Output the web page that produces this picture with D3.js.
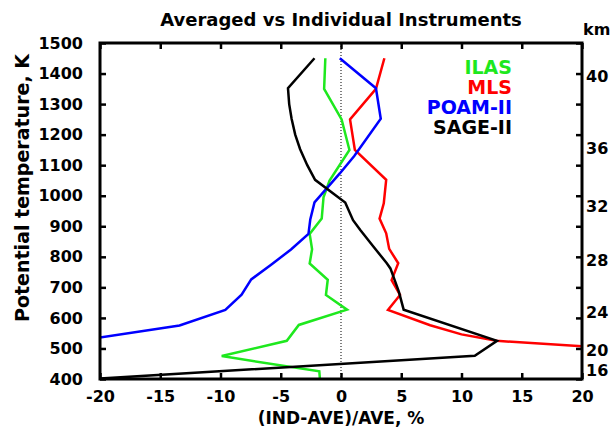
<!DOCTYPE html>
<html>
<head>
<meta charset="utf-8">
<script src="https://cdn.jsdelivr.net/npm/d3@7"></script>
<style>
  body { margin: 0; background: #fff; }
  text { font-family: "DejaVu Sans", sans-serif; font-weight: bold; fill: #000; }
</style>
</head>
<body>
<div id="chart"></div>
<script>
// potential temperature levels (K) and percent differences for each instrument
var ilasTheta = [1450, 1350, 1250, 1150, 1050, 995, 925, 875, 825, 778, 725, 675, 627, 577, 525, 475, 425, 400];
var ilasDiff  = [-1.3, -1.4, 0.05, 0.7, -0.95, -1.45, -1.6, -2.6, -2.4, -2.6, -1.1, -1.25, 0.5, -3.5, -4.5, -9.9, -1.8, -1.75];

var mlsTheta = [1450, 1350, 1250, 1150, 1052, 975, 925, 877, 826, 779, 724, 675, 626, 576, 546, 525, 500];
var mlsDiff  = [3.6, 2.9, 0.75, 1.15, 3.75, 3.55, 3.2, 3.75, 4.0, 4.75, 4.2, 4.9, 3.9, 7.4, 10.0, 12.9, 23];

var poamTheta = [1450, 1352, 1252, 1130, 1073, 978, 922, 875, 824, 774, 726, 676, 626, 575, 525];
var poamDiff  = [-0.1, 2.9, 3.3, 1.1, -0.1, -2.2, -2.55, -2.7, -4.15, -5.8, -7.45, -8.25, -9.6, -13.4, -21.9];

var sageTheta = [1450, 1352, 1300, 1252, 1200, 1153, 1100, 1052, 978, 920, 888, 833, 779, 762, 686, 627, 525, 476, 400];
var sageDiff  = [-2.2, -4.4, -4.3, -4.1, -3.8, -3.4, -2.8, -2.15, 0.35, 1.0, 1.6, 2.7, 3.8, 4.1, 4.8, 5.2, 12.95, 11.1, -20.6];

var seriesNames  = ["ILAS", "MLS", "POAM-II", "SAGE-II"];
var seriesColors = ["#1ee81e", "#ff0000", "#0000ff", "#000000"];
var seriesTheta  = [ilasTheta, mlsTheta, poamTheta, sageTheta];
var seriesDiff   = [ilasDiff, mlsDiff, poamDiff, sageDiff];

var xTicks = [-20, -15, -10, -5, 0, 5, 10, 15, 20];
var yTicks = [400, 500, 600, 700, 800, 900, 1000, 1100, 1200, 1300, 1400, 1500];
var kmLabels = ["40", "36", "32", "28", "24", "20", "16"];
var kmTheta  = [1390, 1155, 964, 790, 620, 495, 430];

var width = 611, height = 428;
var plotL = 100, plotR = 582, plotT = 43, plotB = 379;

var svg = d3.select("#chart").append("svg")
            .attr("width", width)
            .attr("height", height);

var x = d3.scaleLinear().domain([-20, 20]).range([plotL, plotR]);
var y = d3.scaleLinear().domain([400, 1500]).range([plotB, plotT]);

svg.append("clipPath").attr("id", "plotclip")
   .append("rect")
   .attr("x", plotL).attr("y", plotT)
   .attr("width", plotR - plotL).attr("height", plotB - plotT);

// zero line
svg.append("line")
   .attr("x1", x(0)).attr("x2", x(0))
   .attr("y1", plotT).attr("y2", plotB)
   .attr("stroke", "#000")
   .attr("stroke-width", 1)
   .attr("stroke-dasharray", "1,2");

var line = d3.line()
             .x(function (d) { return x(d[0]); })
             .y(function (d) { return y(d[1]); });

var lines = svg.append("g").attr("clip-path", "url(#plotclip)");
for (var i = 0; i < seriesNames.length; i++) {
  var pts = d3.zip(seriesDiff[i], seriesTheta[i]);
  lines.append("path")
       .attr("d", line(pts))
       .attr("fill", "none")
       .attr("stroke", seriesColors[i])
       .attr("stroke-width", 2.5)
       .attr("stroke-linejoin", "miter");
}

var plain = function (d) { return String(d); };

// axes with inward ticks
svg.append("g")
   .attr("transform", "translate(" + plotL + ",0)")
   .call(d3.axisLeft(y).tickValues(yTicks).tickSizeInner(-6).tickSizeOuter(0).tickPadding(17).tickFormat(plain));

svg.append("g")
   .attr("transform", "translate(" + plotR + ",0)")
   .call(d3.axisRight(y).tickValues(yTicks).tickSizeInner(-6).tickSizeOuter(0).tickFormat(""));

svg.append("g")
   .attr("transform", "translate(0," + plotB + ")")
   .call(d3.axisBottom(x).tickValues(xTicks).tickSizeInner(-6).tickSizeOuter(0).tickPadding(12).tickFormat(plain));

svg.append("g")
   .attr("transform", "translate(0," + plotT + ")")
   .call(d3.axisTop(x).tickValues(xTicks).tickSizeInner(-6).tickSizeOuter(0).tickFormat(""));

svg.selectAll(".domain").remove();
svg.selectAll(".tick line").attr("stroke", "#000").attr("stroke-width", 2.5);
svg.selectAll(".tick text")
   .attr("fill", "#000")
   .style("font-family", "'DejaVu Sans', sans-serif")
   .style("font-weight", "bold")
   .style("font-size", "16px");

// frame
svg.append("rect")
   .attr("x", plotL).attr("y", plotT)
   .attr("width", plotR - plotL).attr("height", plotB - plotT)
   .attr("fill", "none")
   .attr("stroke", "#000")
   .attr("stroke-width", 3);

// km labels on the right
svg.selectAll(".km")
   .data(kmLabels)
   .enter()
   .append("text")
   .attr("class", "km")
   .attr("x", plotR + 4)
   .attr("y", function (d, i) { return y(kmTheta[i]); })
   .attr("dy", "0.36em")
   .style("font-size", "16px")
   .text(function (d) { return d; });

svg.append("text")
   .attr("x", 583).attr("y", 35)
   .style("font-size", "16px")
   .text("km");

// title
svg.append("text")
   .attr("x", (plotL + plotR) / 2).attr("y", 26)
   .attr("text-anchor", "middle")
   .style("font-size", "18px")
   .text("Averaged vs Individual Instruments");

// axis titles
svg.append("text")
   .attr("x", (plotL + plotR) / 2).attr("y", 424)
   .attr("text-anchor", "middle")
   .style("font-size", "17px")
   .text("(IND-AVE)/AVE, %");

svg.append("text")
   .attr("transform", "translate(29,188) rotate(-90)")
   .attr("text-anchor", "middle")
   .style("font-size", "19px")
   .text("Potential temperature, K");

// legend
svg.selectAll(".legend")
   .data(seriesNames)
   .enter()
   .append("text")
   .attr("class", "legend")
   .attr("x", 512)
   .attr("y", function (d, i) { return 67 + i * 20; })
   .attr("dy", "0.36em")
   .attr("text-anchor", "end")
   .style("font-size", "19px")
   .style("fill", function (d, i) { return seriesColors[i]; })
   .text(function (d) { return d; });
</script>
</body>
</html>
